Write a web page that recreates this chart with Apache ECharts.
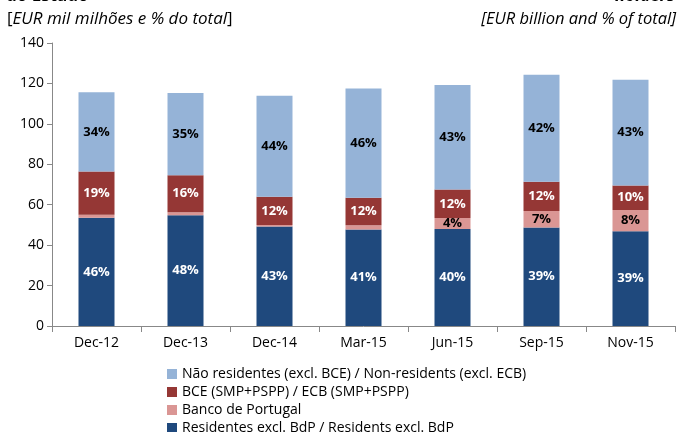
<!DOCTYPE html>
<html>
<head>
<meta charset="utf-8">
<script src="https://cdn.jsdelivr.net/npm/echarts@6/dist/echarts.min.js"></script>
<style>
  html, body { margin: 0; padding: 0; background: #fff; }
  #chart { width: 680px; height: 432px; }
</style>
</head>
<body>
<div id="chart"></div>
<script>
// categorias (datas)
const categories = ['Dec-12', 'Dec-13', 'Dec-14', 'Mar-15', 'Jun-15', 'Sep-15', 'Nov-15']

// EUR mil milhões
const residentes = [53.6, 54.8, 49.2, 47.7, 48.0, 48.7, 46.9]
const bancoPortugal = [1.4, 1.5, 0.8, 2.1, 5.4, 8.2, 10.5]
const bce = [21.4, 18.3, 13.9, 13.7, 14.1, 14.4, 12.1]
const naoResidentes = [39.2, 40.7, 50.0, 54.0, 51.7, 53.0, 52.3]

// % do total (rótulos)
const residentesPct = ['46%', '48%', '43%', '41%', '40%', '39%', '39%']
const bdpPct = ['', '', '', '', '4%', '7%', '8%']
const bcePct = ['19%', '16%', '12%', '12%', '12%', '12%', '10%']
const naoResPct = ['34%', '35%', '44%', '46%', '43%', '42%', '43%']

const yTicks = [0, 20, 40, 60, 80, 100, 120, 140]

const names = {
  res: 'Residentes excl. BdP / Residents excl. BdP',
  bdp: 'Banco de Portugal',
  bce: 'BCE (SMP+PSPP) / ECB (SMP+PSPP)',
  nres: 'Não residentes (excl. BCE) / Non-residents (excl. ECB)'
}

const font = 'Open Sans, Noto Sans, sans-serif'

const makeSeries = (name, values, labels, color, labelColor) => ({
  name: name,
  type: 'bar',
  stack: 'total',
  barWidth: 36,
  data: values,
  itemStyle: { color: color },
  label: {
    show: true,
    position: 'inside',
    formatter: (p) => labels[p.dataIndex],
    color: labelColor,
    fontWeight: 'bold',
    fontSize: 13,
    fontFamily: font
  },
  emphasis: { disabled: true }
})

const chart = echarts.init(document.getElementById('chart'))

chart.setOption({
  animation: false,
  textStyle: { fontFamily: font },
  graphic: [
    {
      type: 'text', x: 6, y: -4,
      style: { text: 'do Estado', font: 'bold 17px ' + font, fill: '#000', verticalAlign: 'middle' }
    },
    {
      type: 'text', x: 675, y: -4,
      style: { text: 'holders', font: 'bold italic 17px ' + font, fill: '#000', align: 'right', verticalAlign: 'middle' }
    },
    {
      type: 'text', x: 7, y: 19,
      style: {
        text: '[{i|EUR mil milhões e % do total}]',
        font: '17px ' + font,
        fill: '#000',
        verticalAlign: 'middle',
        rich: { i: { fontStyle: 'italic', fontSize: 17, fontFamily: font } }
      }
    },
    {
      type: 'text', x: 676, y: 19,
      style: { text: '[EUR billion and % of total]', font: 'italic 16.5px ' + font, fill: '#000', align: 'right', verticalAlign: 'middle' }
    }
  ],
  grid: { left: 52, right: 5, top: 43, bottom: 106 },
  legend: {
    orient: 'vertical',
    left: 162,
    top: 362,
    height: 120,
    itemWidth: 10,
    itemHeight: 10,
    itemGap: 4,
    icon: 'rect',
    selectedMode: false,
    data: [names.nres, names.bce, names.bdp, names.res],
    textStyle: { fontSize: 14, color: '#000', fontFamily: font }
  },
  xAxis: {
    type: 'category',
    data: categories,
    axisLine: { lineStyle: { color: '#888' } },
    axisTick: { show: true, length: 6, lineStyle: { color: '#888' } },
    axisLabel: { color: '#000', fontSize: 14, margin: 10, fontFamily: font }
  },
  yAxis: {
    type: 'value',
    min: 0,
    max: yTicks[yTicks.length - 1],
    interval: 20,
    splitLine: { show: false },
    axisLine: { show: true, lineStyle: { color: '#888' } },
    axisTick: { show: true, length: 5, lineStyle: { color: '#888' } },
    axisLabel: { color: '#000', fontSize: 14, margin: 8, fontFamily: font }
  },
  series: [
    makeSeries(names.res, residentes, residentesPct, '#1F497D', '#fff'),
    makeSeries(names.bdp, bancoPortugal, bdpPct, '#DA9694', '#000'),
    makeSeries(names.bce, bce, bcePct, '#953735', '#fff'),
    makeSeries(names.nres, naoResidentes, naoResPct, '#95B3D7', '#000')
  ]
})
</script>
</body>
</html>
